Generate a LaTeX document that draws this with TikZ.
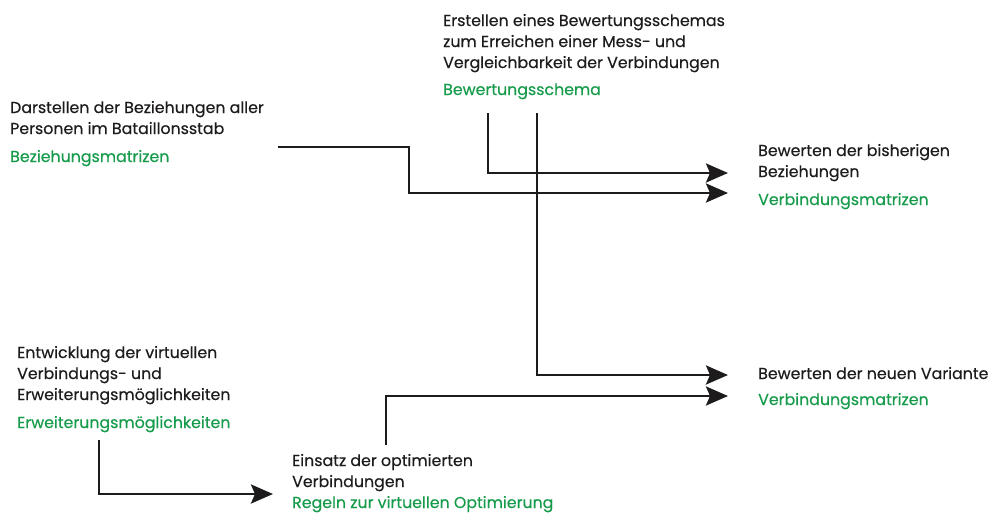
\documentclass[tikz,border=0pt]{standalone}
\usepackage{fontspec}
\setmainfont{Poppins}[FakeBold=0.4]
\usetikzlibrary{arrows.meta}
\definecolor{ink}{RGB}{30,27,28}
\definecolor{leaf}{RGB}{22,155,75}
\begin{document}
\begin{tikzpicture}[x=1pt,y=-1pt,
  % multi-line texts are placed by the baseline of their last line
  txt/.style={anchor=base west, inner sep=0pt, align=left,
    font=\fontsize{15.8}{21}\selectfont, text=ink},
  result/.style={txt, text=leaf},
  flow/.style={draw=ink, line width=2.8pt,
    -{Stealth[length=22pt,width=19pt,inset=4pt]}}]
\useasboundingbox (0,0) rectangle (990,517);

% process steps
\node[txt] (schema) at (443,68) {Erstellen eines Bewertungsschemas\\zum Erreichen einer Mess- und\\Vergleichbarkeit der Verbindungen};
\node[result] (schemaOut) at (443,95) {Bewertungsschema};

\node[txt] (relations) at (10,134) {Darstellen der Beziehungen aller\\Personen im Bataillonsstab};
\node[result] (relationsOut) at (10,162) {Beziehungsmatrizen};

\node[txt] (rateOld) at (758,177) {Bewerten der bisherigen\\Beziehungen};
\node[result] (rateOldOut) at (758,205) {Verbindungsmatrizen};

\node[txt] (rateNew) at (758,379) {Bewerten der neuen Variante};
\node[result] (rateNewOut) at (758,405) {Verbindungsmatrizen};

\node[txt] (develop) at (17,400) {Entwicklung der virtuellen\\Verbindungs- und\\Erweiterungsmöglichkeiten};
\node[result] (developOut) at (17,428) {Erweiterungsmöglichkeiten};

\node[txt] (deploy) at (292,487) {Einsatz der optimierten\\Verbindungen};
\node[result] (deployOut) at (292,508) {Regeln zur virtuellen Optimierung};

% connector ends
\coordinate (relStart) at (278,147);
\coordinate (relBend) at (409,147);
\coordinate (schemaA) at (488,113);
\coordinate (schemaB) at (537,113);
\coordinate (devStart) at (99,440);
\coordinate (depStart) at (386,445);
\coordinate (oldInA) at (728,173);
\coordinate (oldInB) at (728,193);
\coordinate (newInA) at (728,375);
\coordinate (newInB) at (728,396);
\coordinate (depIn) at (273,494);

% connectors
\draw[flow] (relStart) -- (relBend) |- (oldInB);
\draw[flow] (schemaA) |- (oldInA);
\draw[flow] (schemaB) |- (newInA);
\draw[flow] (depStart) |- (newInB);
\draw[flow] (devStart) |- (depIn);
\end{tikzpicture}
\end{document}
